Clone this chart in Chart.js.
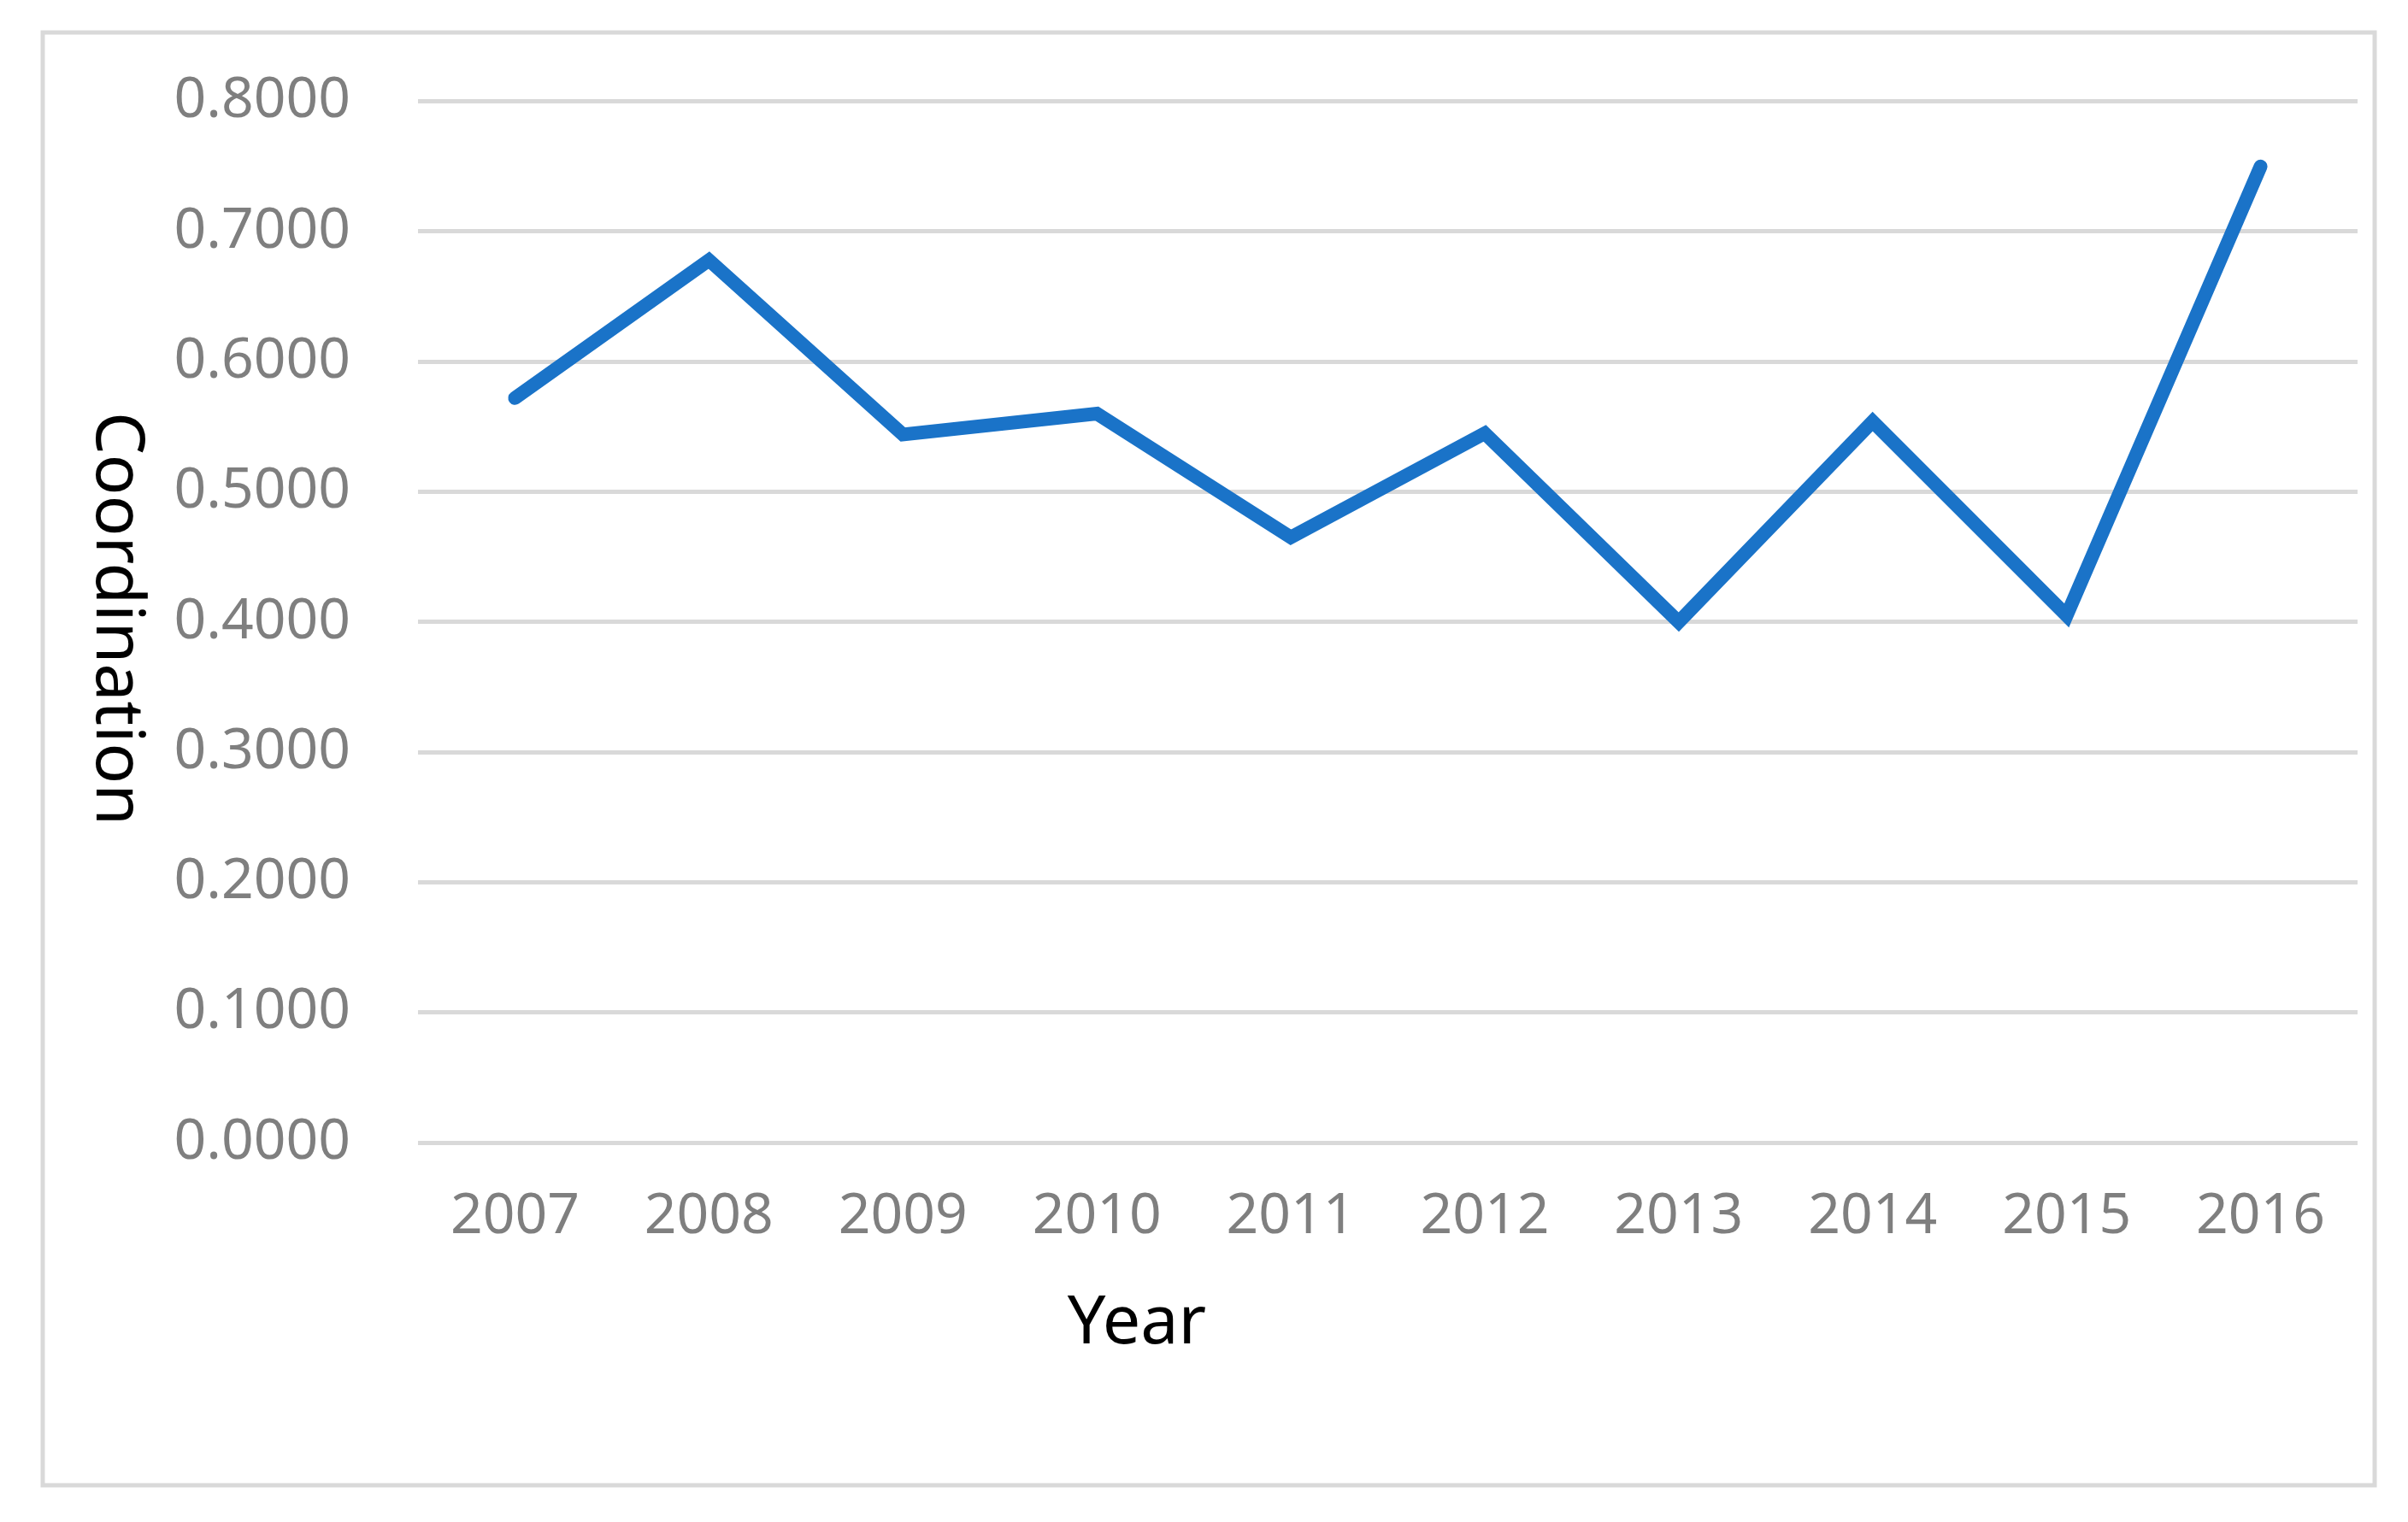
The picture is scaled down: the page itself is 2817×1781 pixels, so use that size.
<!DOCTYPE html>
<html><head><meta charset="utf-8">
<script src="https://cdn.jsdelivr.net/npm/chart.js@4/dist/chart.umd.min.js"></script>
<style>html,body{margin:0;padding:0;background:#fff}</style>
</head><body>
<canvas id="c" width="2817" height="1781"></canvas>
<script>
const years = ['2007','2008','2009','2010','2011','2012','2013','2014','2015','2016'];
const coordination = [0.572,0.678,0.544,0.560,0.465,0.545,0.400,0.554,0.405,0.750];
const xTitle = 'Year';
const yTitle = 'Coordination';
const FONT = '"Noto Sans", "DejaVu Sans", sans-serif';

const deco = {
  id:'deco',
  beforeDraw(ch){
    const c=ch.ctx; c.save();
    c.fillStyle='#fff'; c.fillRect(0,0,ch.width,ch.height);
    c.strokeStyle='#d9d9d9'; c.lineWidth=5;
    c.strokeRect(50,38,2728,1700);
    c.restore();
  },
  afterDraw(ch){
    const c=ch.ctx; c.save();
    c.fillStyle='#000'; c.font='79px '+FONT;
    c.textAlign='center'; c.textBaseline='middle';
    c.fillText(xTitle,1330,1549);
    c.translate(135,724); c.rotate(Math.PI/2);
    c.fillText(yTitle,0,0);
    c.restore();
  }
};

new Chart(document.getElementById('c'),{
  type:'line',
  data:{labels:years,datasets:[{data:coordination,borderColor:'#1a73c8',borderWidth:16,pointRadius:0,tension:0,fill:false,borderCapStyle:'round',borderJoinStyle:'miter'}]},
  options:{
    responsive:false,animation:false,devicePixelRatio:1,
    layout:{padding:{top:52,right:59,left:0,bottom:0}},
    plugins:{legend:{display:false},tooltip:{enabled:false}},
    scales:{
      x:{offset:true,grid:{display:false},border:{display:false},
         ticks:{color:'#7f7f7f',font:{size:66,family:FONT},padding:40,maxRotation:0},
         afterFit(s){s.height=444;}},
      y:{min:0,max:0.8,
         grid:{color:'#d9d9d9',lineWidth:5,drawTicks:false},border:{display:false},
         ticks:{stepSize:0.1,color:'#7f7f7f',font:{size:66,family:FONT},padding:79,
                callback:v=>Number(v).toFixed(4)},
         afterFit(s){s.width=489;}}
    }
  },
  plugins:[deco]
});
</script>
</body></html>
